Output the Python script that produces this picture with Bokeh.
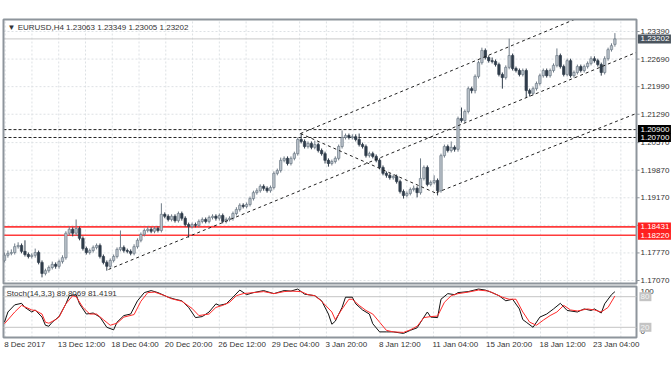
from bokeh.plotting import figure
from bokeh.models import Range1d, ColumnDataSource
from bokeh.core.properties import value
from bokeh.embed import file_html
from bokeh.resources import INLINE

# ---------------- data ----------------
title_text = "\u25bc EURUSD,H4  1.23063 1.23349 1.23005 1.23202"
stoch_text = "Stoch(14,3,3) 89.8069 81.4191"

opens = [
    1.1758, 1.1771, 1.1776, 1.1778, 1.1793, 1.1796, 1.1781, 1.1773, 1.1768, 1.1771,
    1.1778, 1.1753, 1.1725, 1.1732, 1.1740, 1.1748, 1.1743, 1.1755, 1.1765, 1.1827,
    1.1837, 1.1827, 1.1839, 1.1814, 1.1788, 1.1778, 1.1783, 1.1791, 1.1796, 1.1768,
    1.1753, 1.1743, 1.1758, 1.1768, 1.1786, 1.1791, 1.1783, 1.1781, 1.1776, 1.1793,
    1.1809, 1.1824, 1.1834, 1.1837, 1.1832, 1.1839, 1.1834, 1.1875, 1.1870, 1.1862,
    1.1870, 1.1859, 1.1877, 1.1865, 1.1849, 1.1844, 1.1849, 1.1847, 1.1857, 1.1862,
    1.1857, 1.1867, 1.1870, 1.1865, 1.1872, 1.1857, 1.1862, 1.1865, 1.1877, 1.1887,
    1.1898, 1.1895, 1.1900, 1.1915, 1.1930, 1.1935, 1.1946, 1.1941, 1.1935, 1.1943,
    1.1979, 1.1986, 1.2012, 1.2017, 1.2004, 1.2017, 1.2029, 1.2065, 1.2060, 1.2047,
    1.2055, 1.2045, 1.2052, 1.2037, 1.2029, 1.2012, 1.2004, 1.2009, 1.2017, 1.2047,
    1.2070, 1.2075, 1.2070, 1.2072, 1.2065, 1.2052, 1.2047, 1.2024, 1.2029, 1.2022,
    1.2012, 1.1994, 1.1979, 1.1974, 1.1968, 1.1971, 1.1958, 1.1933, 1.1923, 1.1928,
    1.1938, 1.1941, 1.1930, 1.1966, 1.1994, 1.1951, 1.1956, 1.1961, 1.1935, 1.2024,
    1.2047, 1.2037, 1.2045, 1.2040, 1.2118, 1.2113, 1.2136, 1.2194, 1.2189, 1.2225,
    1.2260, 1.2291, 1.2273, 1.2265, 1.2263, 1.2255, 1.2230, 1.2222, 1.2248, 1.2278,
    1.2245, 1.2240, 1.2230, 1.2240, 1.2189, 1.2182, 1.2194, 1.2207, 1.2227, 1.2240,
    1.2227, 1.2240, 1.2253, 1.2278, 1.2250, 1.2230, 1.2265, 1.2227, 1.2235, 1.2250,
    1.2240, 1.2250, 1.2258, 1.2270, 1.2265, 1.2255, 1.2235, 1.2270, 1.2293, 1.23063,
]
highs = [
    1.1778, 1.1783, 1.1786, 1.1801, 1.1804, 1.1801, 1.1809, 1.1778, 1.1776, 1.1788,
    1.1783, 1.1758, 1.1737, 1.1745, 1.1755, 1.1753, 1.1760, 1.1771, 1.1832, 1.1844,
    1.1842, 1.1862, 1.1844, 1.1819, 1.1793, 1.1788, 1.1796, 1.1801, 1.1801, 1.1773,
    1.1758, 1.1763, 1.1773, 1.1791, 1.1834, 1.1796, 1.1788, 1.1786, 1.1799, 1.1814,
    1.1829, 1.1839, 1.1844, 1.1842, 1.1844, 1.1844, 1.1903, 1.1880, 1.1875, 1.1875,
    1.1875, 1.1882, 1.1882, 1.1870, 1.1854, 1.1854, 1.1854, 1.1862, 1.1867, 1.1867,
    1.1872, 1.1875, 1.1875, 1.1877, 1.1877, 1.1867, 1.1870, 1.1882, 1.1893, 1.1903,
    1.1903, 1.1905, 1.1920, 1.1935, 1.1941, 1.1951, 1.1951, 1.1946, 1.1948, 1.1984,
    1.1991, 1.2019, 1.2022, 1.2022, 1.2022, 1.2034, 1.2070, 1.2080, 1.2065, 1.2060,
    1.2060, 1.2062, 1.2057, 1.2042, 1.2034, 1.2017, 1.2014, 1.2022, 1.2052, 1.2088,
    1.2080, 1.2080, 1.2078, 1.2078, 1.2080, 1.2057, 1.2052, 1.2034, 1.2034, 1.2027,
    1.2017, 1.1999, 1.1984, 1.1979, 1.1976, 1.1976, 1.1963, 1.1938, 1.1933, 1.1943,
    1.1948, 1.1946, 1.2017, 1.1999, 1.1999, 1.1961, 1.1974, 1.1966, 1.2029, 1.2052,
    1.2052, 1.2060, 1.2050, 1.2123, 1.2146, 1.2141, 1.2199, 1.2199, 1.2230, 1.2265,
    1.2298, 1.2296, 1.2278, 1.2273, 1.2268, 1.2260, 1.2235, 1.2253, 1.2321, 1.2283,
    1.2250, 1.2245, 1.2245, 1.2245, 1.2194, 1.2199, 1.2212, 1.2232, 1.2245, 1.2245,
    1.2245, 1.2258, 1.2296, 1.2283, 1.2255, 1.2270, 1.2270, 1.2240, 1.2255, 1.2255,
    1.2255, 1.2263, 1.2276, 1.2276, 1.2270, 1.2260, 1.2276, 1.2298, 1.2309, 1.23349,
]
lows = [
    1.1753, 1.1765, 1.1771, 1.1773, 1.1788, 1.1776, 1.1768, 1.1763, 1.1763, 1.1765,
    1.1748, 1.1715, 1.1720, 1.1727, 1.1735, 1.1737, 1.1737, 1.1750, 1.1760, 1.1821,
    1.1819, 1.1821, 1.1809, 1.1783, 1.1773, 1.1773, 1.1778, 1.1786, 1.1763, 1.1748,
    1.1732, 1.1737, 1.1753, 1.1763, 1.1781, 1.1778, 1.1776, 1.1771, 1.1771, 1.1788,
    1.1804, 1.1819, 1.1829, 1.1827, 1.1827, 1.1829, 1.1829, 1.1865, 1.1857, 1.1857,
    1.1854, 1.1854, 1.1859, 1.1844, 1.1816, 1.1839, 1.1842, 1.1842, 1.1852, 1.1852,
    1.1852, 1.1862, 1.1859, 1.1859, 1.1852, 1.1852, 1.1857, 1.1859, 1.1872, 1.1882,
    1.1890, 1.1890, 1.1895, 1.1910, 1.1925, 1.1930, 1.1935, 1.1930, 1.1930, 1.1938,
    1.1974, 1.1981, 1.2007, 1.1999, 1.1999, 1.2012, 1.2024, 1.2055, 1.2042, 1.2042,
    1.2040, 1.2040, 1.2032, 1.2024, 1.2004, 1.1996, 1.1999, 1.2004, 1.2012, 1.2042,
    1.2065, 1.2065, 1.2065, 1.2060, 1.2047, 1.2042, 1.2019, 1.2019, 1.2017, 1.2007,
    1.1989, 1.1974, 1.1968, 1.1963, 1.1963, 1.1953, 1.1928, 1.1915, 1.1918, 1.1923,
    1.1933, 1.1918, 1.1925, 1.1961, 1.1946, 1.1946, 1.1951, 1.1923, 1.1930, 1.2019,
    1.2032, 1.2032, 1.2034, 1.2034, 1.2108, 1.2108, 1.2131, 1.2182, 1.2182, 1.2220,
    1.2255, 1.2268, 1.2260, 1.2258, 1.2250, 1.2225, 1.2194, 1.2217, 1.2243, 1.2240,
    1.2235, 1.2225, 1.2225, 1.2171, 1.2174, 1.2177, 1.2189, 1.2202, 1.2222, 1.2222,
    1.2222, 1.2235, 1.2248, 1.2245, 1.2225, 1.2225, 1.2222, 1.2222, 1.2230, 1.2235,
    1.2235, 1.2245, 1.2253, 1.2260, 1.2250, 1.2227, 1.2230, 1.2265, 1.2288, 1.23005,
]
closes = [
    1.1771, 1.1776, 1.1778, 1.1793, 1.1796, 1.1781, 1.1773, 1.1768, 1.1771, 1.1778,
    1.1753, 1.1725, 1.1732, 1.1740, 1.1748, 1.1743, 1.1755, 1.1765, 1.1827, 1.1837,
    1.1827, 1.1839, 1.1814, 1.1788, 1.1778, 1.1783, 1.1791, 1.1796, 1.1768, 1.1753,
    1.1743, 1.1758, 1.1768, 1.1786, 1.1791, 1.1783, 1.1781, 1.1776, 1.1793, 1.1809,
    1.1824, 1.1834, 1.1837, 1.1832, 1.1839, 1.1834, 1.1875, 1.1870, 1.1862, 1.1870,
    1.1859, 1.1877, 1.1865, 1.1849, 1.1844, 1.1849, 1.1847, 1.1857, 1.1862, 1.1857,
    1.1867, 1.1870, 1.1865, 1.1872, 1.1857, 1.1862, 1.1865, 1.1877, 1.1887, 1.1898,
    1.1895, 1.1900, 1.1915, 1.1930, 1.1935, 1.1946, 1.1941, 1.1935, 1.1943, 1.1979,
    1.1986, 1.2012, 1.2017, 1.2004, 1.2017, 1.2029, 1.2065, 1.2060, 1.2047, 1.2055,
    1.2045, 1.2052, 1.2037, 1.2029, 1.2012, 1.2004, 1.2009, 1.2017, 1.2047, 1.2070,
    1.2075, 1.2070, 1.2072, 1.2065, 1.2052, 1.2047, 1.2024, 1.2029, 1.2022, 1.2012,
    1.1994, 1.1979, 1.1974, 1.1968, 1.1971, 1.1958, 1.1933, 1.1923, 1.1928, 1.1938,
    1.1941, 1.1930, 1.1966, 1.1994, 1.1951, 1.1956, 1.1961, 1.1935, 1.2024, 1.2047,
    1.2037, 1.2045, 1.2040, 1.2118, 1.2113, 1.2136, 1.2194, 1.2189, 1.2225, 1.2260,
    1.2291, 1.2273, 1.2265, 1.2263, 1.2255, 1.2230, 1.2222, 1.2248, 1.2278, 1.2245,
    1.2240, 1.2230, 1.2240, 1.2189, 1.2182, 1.2194, 1.2207, 1.2227, 1.2240, 1.2227,
    1.2240, 1.2253, 1.2278, 1.2250, 1.2230, 1.2265, 1.2227, 1.2235, 1.2250, 1.2240,
    1.2250, 1.2258, 1.2270, 1.2265, 1.2255, 1.2235, 1.2270, 1.2293, 1.2303, 1.23202,
]

# Stochastic main (%K) and signal (%D), sampled at bar indices
k_bars = [0, 1, 3, 5, 6, 8, 9, 11, 12, 13, 14, 16, 18, 19, 21, 22, 24, 26, 28, 30,
          32, 33, 35, 37, 39, 41, 43, 45, 48, 50, 52, 54, 56, 58, 60, 62, 63, 65, 67, 69,
          71, 73, 76, 79, 82, 84, 86, 88, 91, 93, 95, 96, 97, 99, 100, 102, 103, 105, 107, 108,
          110, 112, 114, 117, 119, 121, 123, 124, 125, 127, 128, 130, 132, 133, 136, 139, 141, 143, 145, 147,
          149, 151, 152, 153, 155, 157, 159, 161, 163, 165, 168, 170, 172, 173, 175, 176, 178, 179]
k_vals = [30, 50, 64, 67, 59, 50, 54, 40, 24, 22, 30, 41, 66, 82, 84, 66, 46, 48, 40, 20,
          15, 30, 43, 46, 72, 88, 92, 88, 79, 75, 72, 59, 39, 41, 50, 66, 63, 66, 79, 93,
          84, 88, 92, 86, 92, 91, 95, 85, 82, 72, 46, 26, 32, 59, 79, 79, 66, 54, 46, 27,
          11, 11, 11, 8, 14, 19, 40, 50, 40, 39, 75, 86, 84, 88, 90, 95, 93, 88, 82, 72,
          75, 56, 35, 30, 20, 40, 46, 56, 67, 53, 50, 56, 53, 56, 48, 66, 84, 89.8069]
d_bars = [0, 3, 5, 8, 9, 11, 12, 13, 15, 16, 18, 20, 21, 23, 25, 27, 29, 31, 33, 35,
          38, 40, 42, 44, 47, 49, 52, 55, 57, 60, 62, 64, 66, 68, 70, 73, 76, 79, 82, 84,
          87, 89, 91, 93, 96, 97, 99, 101, 102, 104, 106, 108, 110, 112, 114, 117, 119, 121, 123, 125,
          127, 129, 131, 133, 136, 139, 142, 144, 146, 148, 150, 152, 154, 156, 158, 160, 162, 164, 166, 168,
          171, 173, 175, 177, 179]
d_vals = [27, 50, 63, 54, 53, 46, 30, 28, 35, 40, 66, 82, 80, 59, 46, 46, 35, 24, 28, 40,
          45, 71, 88, 89, 82, 76, 71, 57, 43, 46, 59, 63, 69, 82, 86, 88, 90, 86, 90, 91,
          90, 84, 82, 71, 50, 35, 56, 75, 75, 63, 53, 46, 30, 14, 11, 10, 15, 22, 39, 41,
          42, 69, 82, 86, 89, 93, 91, 85, 79, 75, 75, 50, 30, 24, 34, 43, 50, 63, 54, 52,
          56, 54, 50, 59, 81.4191]

# price axis ticks and labels
price_ticks = [1.2339, 1.2269, 1.2199, 1.2129, 1.2057, 1.1987, 1.1917, 1.1847, 1.1777, 1.1707]
price_tick_labels = ["1.23390", "1.22690", "1.21990", "1.21290", "1.20570", "1.19870",
                     "1.19170", "1.18470", "1.17770", "1.17070"]

# time axis labels (bar positions)
date_tick_bars = [0.2, 15.9, 31.6, 47.3, 63.0, 78.7, 94.4, 110.1, 125.8, 141.5, 157.2, 172.9]
date_labels = ["8 Dec 2017", "13 Dec 12:00", "18 Dec 04:00", "20 Dec 20:00", "26 Dec 12:00",
               "29 Dec 04:00", "3 Jan 20:00", "8 Jan 12:00", "11 Jan 04:00", "15 Jan 20:00",
               "18 Jan 12:00", "23 Jan 04:00"]

# drawn objects
resistance_levels = [1.2090, 1.2070]
resistance_labels = ["1.20900", "1.20700"]
support_levels = [1.18431, 1.18220]
support_labels = ["1.18431", "1.18220"]
bid_label = "1.23202"
trend_x0 = [86.8, 30.5, 126.7, 86.8]
trend_y0 = [1.2080, 1.1735, 1.1930, 1.2080]
trend_x1 = [167.0, 185.3, 185.3, 126.7]
trend_y1 = [1.2369, 1.2286, 1.2131, 1.1928]
stoch_levels = [80, 20]
stoch_level_labels = ["80", "20"]

# ---------------- layout / styling ----------------
FONT = value("Liberation Sans")
FS = value("8px")
TXT = "#333333"
BORDER = "#8e959c"
GRIDC = "#dde1e4"
BULL_FILL, BULL_LINE = "#bcc4cc", "#6f7b87"
BEAR_FILL, BEAR_LINE = "#2f3c4a", "#2f3c4a"

XL, XR = -0.293, 185.34          # panel left / right border (bar units)
P_TOP, P_BOT = 1.23695, 1.16994  # main panel border (price units)
S_TOP, S_BOT = 100, 0            # stochastic panel border
AX_TXT = 186.5                   # price label text x
AX_BADGE = 190.6                 # badge centre x

p = figure(width=672, height=372, x_range=Range1d(-1.173, 195.894),
           y_range=Range1d(1.147354, 1.241768),
           output_backend="svg", toolbar_location=None, title=None,
           x_axis_type=None, y_axis_type=None,
           min_border=0, min_border_left=0, min_border_right=0, min_border_top=0, min_border_bottom=0,
           background_fill_color="white", border_fill_color="white", outline_line_color=None)
p.extra_y_ranges = {"stoch": Range1d(-68.63, 660.78)}
p.xgrid.visible = False
p.ygrid.visible = False

grid_bars = []
step = (date_tick_bars[1] - date_tick_bars[0]) / 2
for t in date_tick_bars:
    grid_bars += [t, t + step]
grid_bars = [g for g in grid_bars if XL < g < XR]

# grids
p.segment(x0=XL, y0=price_ticks, x1=XR, y1=price_ticks, line_color=GRIDC, line_dash="2 2", line_width=1)
p.segment(x0=grid_bars, y0=P_BOT, x1=grid_bars, y1=P_TOP, line_color=GRIDC, line_dash="2 2", line_width=1)
p.segment(x0=grid_bars, y0=S_BOT, x1=grid_bars, y1=S_TOP, line_color=GRIDC, line_dash="2 2",
          line_width=1, y_range_name="stoch")

# bid line, support (red) and resistance (dashed) levels
p.segment(x0=XL, y0=[closes[-1]], x1=XR, y1=[closes[-1]], line_color="#c8c8c8", line_width=1)
p.segment(x0=XL, y0=support_levels, x1=XR, y1=support_levels, line_color="#ff3b3b", line_width=1.6)
p.segment(x0=XL, y0=resistance_levels, x1=XR, y1=resistance_levels, line_color="#222222",
          line_width=1, line_dash="3 2")

# candles
bars = list(range(len(closes)))
is_up = [c >= o for o, c in zip(opens, closes)]
src = ColumnDataSource(dict(
    x=bars, h=highs, l=lows,
    top=[max(o, c) for o, c in zip(opens, closes)],
    bot=[min(o, c) for o, c in zip(opens, closes)],
    fill=[BULL_FILL if u else BEAR_FILL for u in is_up],
    line=[BULL_LINE if u else BEAR_LINE for u in is_up],
))
p.segment(x0="x", y0="h", x1="x", y1="l", source=src, line_color="line", line_width=1)
p.vbar(x="x", width=0.7, top="top", bottom="bot", source=src,
       fill_color="fill", line_color="line", line_width=0.7)

# trend channel lines
p.segment(x0=trend_x0, y0=trend_y0, x1=trend_x1, y1=trend_y1,
          line_color="#222222", line_width=1, line_dash="3 3")

# panel borders
p.quad(left=[XL], right=[XR], top=[P_TOP], bottom=[P_BOT], fill_color=None,
       line_color=BORDER, line_width=2)
p.quad(left=[XL], right=[XR], top=[S_TOP], bottom=[S_BOT], fill_color=None,
       line_color=BORDER, line_width=2, y_range_name="stoch")

# stochastic
p.segment(x0=XL, y0=stoch_levels, x1=XR, y1=stoch_levels, line_color="#c4c4c4", line_width=1,
          y_range_name="stoch")
p.line(k_bars, k_vals, line_color="#111111", line_width=1, y_range_name="stoch")
p.line(d_bars, d_vals, line_color="#ff2a2a", line_width=1, y_range_name="stoch")

# titles
p.text(x=[0.88], y=[1.2349], text=[title_text], text_font=FONT, text_font_size=FS,
       text_color=TXT, text_baseline="middle")
p.text(x=[0.59], y=[86.3], text=[stoch_text], text_font=FONT, text_font_size=FS,
       text_color=TXT, text_baseline="middle", y_range_name="stoch")

# price axis
p.segment(x0=XR, y0=price_ticks, x1=XR + 0.9, y1=price_ticks, line_color=BORDER, line_width=1)
p.text(x=AX_TXT, y=price_ticks, text=price_tick_labels, text_font=FONT, text_font_size=FS,
       text_color=TXT, text_baseline="middle")

# badges
badge_y = [closes[-1]] + resistance_levels + support_levels
badge_t = [bid_label] + resistance_labels + support_labels
badge_c = ["#4a545e", "#000000", "#000000", "#ff2020", "#ff2020"]
p.rect(x=AX_BADGE, y=badge_y, width=33, height=9, width_units="screen", height_units="screen",
       fill_color=badge_c, line_color=None)
p.text(x=AX_TXT, y=badge_y, text=badge_t, text_font=FONT, text_font_size=FS,
       text_color="white", text_baseline="middle")

# stochastic axis
p.text(x=AX_TXT, y=[90.2, 11.8], text=["100", "0"], text_font=FONT, text_font_size=FS,
       text_color=TXT, text_baseline="middle", y_range_name="stoch")
p.rect(x=187.95, y=stoch_levels, width=12, height=9, width_units="screen", height_units="screen",
       fill_color="#c4c4c4", line_color=None, y_range_name="stoch")
p.text(x=AX_TXT, y=stoch_levels, text=stoch_level_labels, text_font=FONT, text_font_size=FS,
       text_color="#f4f4f4", text_baseline="middle", y_range_name="stoch")

# time axis
p.text(x=[b - 0.3 for b in date_tick_bars], y=-13.7, text=date_labels, text_font=FONT,
       text_font_size=FS, text_color=TXT, text_baseline="middle", y_range_name="stoch")

open("out.html", "w").write(file_html(p, INLINE))
